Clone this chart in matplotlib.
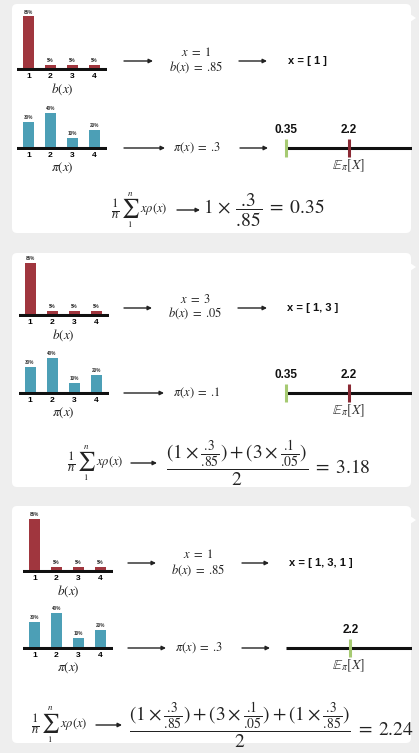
import re
import matplotlib.pyplot as plt
from matplotlib.patches import FancyBboxPatch, Polygon

plt.rcParams['mathtext.fontset'] = 'stix'
plt.rcParams['font.family'] = ['Liberation Sans', 'DejaVu Sans']

W, H = 419, 753

# data
b_vals = [0.85, 0.05, 0.05, 0.05]
pi_vals = [0.30, 0.40, 0.10, 0.20]
x_ticks = ['1', '2', '3', '4']
draws = ['1', '3', '1']
draw_b = ['.85', '.05', '.85']
draw_pi = ['.3', '.1', '.3']
sample_lists = ['x = [ 1 ]', 'x = [ 1, 3 ]', 'x = [ 1, 3, 1 ]']
true_mean = 2.2
est_marks = [0.35, 0.35, 2.24]
est_labels = ['0.35', '0.35', '2.2']
show_true = [True, True, False]
formulas = [
    r'$1\,\times\,\dfrac{.3}{.85}\;=\;0.35$',
    r'$\dfrac{(1\times\frac{.3}{.85}) + (3\times\frac{.1}{.05})}{2}\;=\;3.18$',
    r'$\dfrac{(1\times\frac{.3}{.85}) + (3\times\frac{.1}{.05}) + (1\times\frac{.3}{.85})}{2}\;=\;2.24$',
]

red = '#a0363e'
teal = '#4c9fb6'
green = '#a6ca72'
dark_red = '#8a2934'
ink = '#111111'
txt = '#222222'


def nodot(s):
    # mathtext puts a gap after a leading '.', pull it back
    return re.sub(r'(?<!\d)\.', r'.\\!', s)


fig = plt.figure(figsize=(W / 100, H / 100), dpi=100)
fig.patch.set_facecolor('#eeeeee')
bg = fig.add_axes([0, 0, 1, 1])
bg.set_xlim(0, W)
bg.set_ylim(H, 0)
bg.axis('off')


def rect(x, y, w, h):
    # pixel box (y = top edge) -> figure fraction
    return [x / W, 1 - (y + h) / H, w / W, h / H]


def arrow(x0, x1, y):
    bg.annotate('', xy=(x1, y), xytext=(x0, y),
                arrowprops=dict(arrowstyle='-|>', lw=1, color=txt,
                                mutation_scale=6, shrinkA=0, shrinkB=0))


def bar_chart(x0, base_y, vals, color, ppu, height, label):
    ax = fig.add_axes(rect(x0, base_y - 1.5 - height, 90, height + 3))
    ax.patch.set_alpha(0)
    ax.set_xlim(0.477, 0.477 + 90 / 22)
    ax.set_ylim(-3 / ppu, height / ppu)
    ax.axhline(-1.5 / ppu, color=ink, lw=2.2, zorder=1)
    pos = range(1, len(vals) + 1)
    ax.bar(pos, vals, width=0.5, color=color, zorder=2)
    for p, v in zip(pos, vals):
        ax.text(p, v + 2 / ppu, f'{round(v * 100)}%', ha='center', va='bottom',
                fontsize=3.3, fontweight='bold', color='#333')
    ax.set_xticks(list(pos), x_ticks, fontsize=6, fontweight='bold')
    ax.tick_params(length=0, pad=1.5)
    ax.set_yticks([])
    for s in ax.spines.values():
        s.set_visible(False)
    ax.set_xlabel(label, fontsize=9.5, labelpad=1, color=txt)


def number_line(y, marks, x_start=286):
    ppu = 34.05
    ax = fig.add_axes(rect(x_start - 10, y - 30, 412 - (x_start - 10), 60))
    ax.patch.set_alpha(0)
    ax.set_xlim(0.35 - 10 / ppu, 0.35 + 126 / ppu)
    ax.set_ylim(-30, 30)
    ax.axis('off')
    ax.plot([0.35, 0.35 + 126 / ppu], [0, 0], color=ink, lw=2.2,
            solid_capstyle='butt')
    for v, lab, c in marks:
        ax.plot([v, v], [-9, 9], color=c, lw=2.2, solid_capstyle='butt')
        if lab:
            ax.text(v, 12, lab, ha='center', va='bottom', fontsize=8.5,
                    fontweight='bold', color=ink)
    ax.text(true_mean, -10, r'$\mathbb{E}_{\pi}[X]$', ha='center', va='top',
            fontsize=10, color='#333')


def estimator(x, y):
    bg.text(x, y - 1, r'$\frac{1}{n}$', ha='left', va='center',
            fontsize=13, color=txt)
    sx = x + 19
    bg.text(sx, y - 2, r'$\sum$', ha='center', va='center', fontsize=14,
            color=txt)
    bg.text(sx, y - 17, r'$n$', ha='center', va='center', fontsize=6.5,
            color=txt)
    bg.text(sx, y + 14, r'$1$', ha='center', va='center', fontsize=6.5,
            color=txt)
    bg.text(sx + 10, y - 1, r'$x\rho(x)$', ha='left', va='center',
            fontsize=9, color=txt)


tops = [4, 253, 506]
bottoms = [233, 487, 743]
bar_x = [17, 18.5, 23]
b_base = [69, 315, 571]
pi_base = [148, 393, 648]
row1_y = [61, 308, 563]
row1_text = [(52, 67), (299, 313), (555, 570)]
row1_cx = [196, 195, 198]
arr1 = [(124, 153, 239, 267), (124, 152, 238, 267), (128, 156, 242, 269)]
list_x = [288, 287, 289]
arr2 = [(124, 165), (124, 164), (128, 166)]
pi_x = [173, 173, 175]
second_arr2 = [(240, 268), None, (242, 270)]
form_y = [210, 463, 725]
left_x = [111, 67, 31]
form_arr = [(177, 200), (131, 157), (96, 122)]
right_x = [203, 166, 129]

for i in range(3):
    bg.add_patch(FancyBboxPatch((12, tops[i]), 399, bottoms[i] - tops[i],
                                boxstyle='round,pad=0,rounding_size=5',
                                fc='white', ec='none'))
    ny = tops[i] + 14
    bg.add_patch(Polygon([(410, ny - 4), (416, ny), (410, ny + 4)],
                         closed=True, fc='white', ec='none'))

    bar_chart(bar_x[i], b_base[i], b_vals, red, 60, 58, r'$b(x)$')
    bar_chart(bar_x[i], pi_base[i], pi_vals, teal, 83, 48, r'$\pi(x)$')

    # sampling row
    a = arr1[i]
    arrow(a[0], a[1], row1_y[i])
    arrow(a[2], a[3], row1_y[i])
    bg.text(row1_cx[i], row1_text[i][0], f'$x\\;=\\;{draws[i]}$', ha='center',
            va='center', fontsize=9, color=txt)
    bg.text(row1_cx[i], row1_text[i][1], nodot(f'$b(x)\\;=\\;{draw_b[i]}$'),
            ha='center', va='center', fontsize=9, color=txt)
    bg.text(list_x[i], row1_y[i], sample_lists[i], ha='left', va='center',
            fontsize=8, fontweight='bold', color=ink)

    # target row
    arrow(arr2[i][0], arr2[i][1], pi_base[i])
    bg.text(pi_x[i], pi_base[i], nodot(f'$\\pi(x)\\;=\\;{draw_pi[i]}$'),
            ha='left', va='center', fontsize=9, color=txt)
    if second_arr2[i]:
        arrow(second_arr2[i][0], second_arr2[i][1], pi_base[i])
    marks = [(est_marks[i], est_labels[i], green)]
    if show_true[i]:
        marks.append((true_mean, '2.2', dark_red))
    number_line(pi_base[i], marks)

    # estimator row
    estimator(left_x[i], form_y[i])
    arrow(form_arr[i][0], form_arr[i][1], form_y[i])
    bg.text(right_x[i], form_y[i], nodot(formulas[i]), ha='left', va='center',
            fontsize=14, color=txt)

fig.savefig('out.png', dpi=100, facecolor=fig.get_facecolor())
